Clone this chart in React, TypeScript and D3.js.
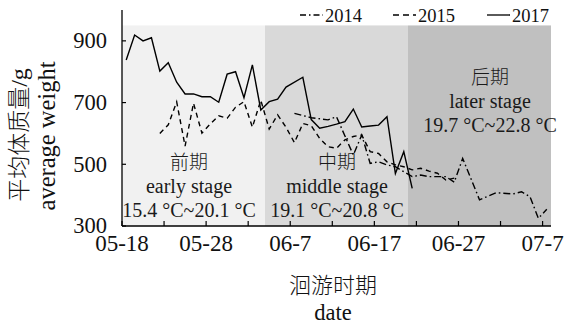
import React from "react";
import * as d3 from "d3";

// Average body weight (g) of migrating fish by date, three survey years
const dates2014 = ["06-07", "06-09", "06-11", "06-12", "06-14", "06-15", "06-16", "06-17", "06-18", "06-19", "06-21", "06-22", "06-23", "06-25", "06-26", "06-27", "06-29", "07-01", "07-03", "07-04", "07-05", "07-06", "07-07"];
const weights2014 = [665, 651, 644, 654, 530, 595, 503, 508, 498, 492, 460, 465, 460, 460, 442, 519, 385, 408, 404, 411, 395, 325, 354];

const dates2015 = ["05-22", "05-23", "05-24", "05-25", "05-26", "05-27", "05-28", "05-29", "05-30", "05-31", "06-01", "06-02", "06-03", "06-04", "06-05", "06-06", "06-07", "06-08", "06-09", "06-10", "06-11", "06-12", "06-13", "06-14", "06-15", "06-16", "06-17", "06-18", "06-19", "06-20", "06-21", "06-22", "06-23", "06-24", "06-25", "06-26"];
const weights2015 = [600, 628, 702, 559, 698, 601, 631, 657, 649, 685, 703, 620, 708, 614, 660, 620, 570, 632, 625, 584, 557, 552, 579, 590, 595, 541, 535, 508, 498, 492, 482, 487, 478, 471, 449, 455];

const dates2017 = ["05-18", "05-19", "05-20", "05-21", "05-22", "05-23", "05-24", "05-25", "05-26", "05-27", "05-28", "05-29", "05-30", "05-31", "06-01", "06-02", "06-03", "06-04", "06-05", "06-06", "06-08", "06-09", "06-10", "06-11", "06-12", "06-13", "06-14", "06-15", "06-16", "06-17", "06-18", "06-19", "06-20", "06-21"];
const weights2017 = [838, 919, 900, 910, 802, 829, 766, 728, 728, 719, 719, 701, 792, 800, 716, 822, 676, 703, 711, 750, 782, 645, 617, 623, 630, 638, 679, 621, 624, 627, 654, 470, 541, 422];

const seriesNames = ["2014", "2015", "2017"];

// Migration stages
const stageStarts = ["05-18", "06-04", "06-21"];
const stageEnd = "07-08";
const stageNamesZh = ["前期", "中期", "后期"];
const stageNamesEn = ["early stage", "middle stage", "later stage"];
const stageTemps = ["15.4 °C~20.1 °C", "19.1 °C~20.8 °C", "19.7 °C~22.8 °C"];

const xStart = "05-18";
const yTickValues = [300, 500, 700, 900];

const W = 565;
const H = 327;
const left = 122;
const right = 551;
const top = 10;
const bottom = 226;

const SERIF = "'Liberation Serif', 'Times New Roman', 'Noto Sans CJK SC', serif";
const CJK = "'Noto Sans CJK SC', 'Liberation Serif', serif";

const parse = (s: string) => new Date(2000, +s.slice(0, 2) - 1, +s.slice(3, 5));
const noon = (s: string) => d3.timeHour.offset(parse(s), 12);

const x = d3.scaleTime().domain([parse(xStart), parse(stageEnd)]).range([left, right]);
const y = d3.scaleLinear().domain([300, 1000]).range([bottom, top]);

const line = d3
  .line<[string, number]>()
  .x((d) => x(noon(d[0])))
  .y((d) => y(d[1]));

const zip = (ds: string[], vs: number[]) => ds.map((d, i) => [d, vs[i]] as [string, number]);

const series = [
  { name: seriesNames[0], data: zip(dates2014, weights2014), dash: "7,3,1.6,3" },
  { name: seriesNames[1], data: zip(dates2015, weights2015), dash: "5,4" },
  { name: seriesNames[2], data: zip(dates2017, weights2017), dash: "none" },
];

const bandFills = ["#f1f1f1", "#d9d9d9", "#c0c0c0"];
const stageLabelPos = [
  { cx: 189, y0: 169 },
  { cx: 337, y0: 169 },
  { cx: 490, y0: 84 },
];

const tickDates = d3.range(0, 51, 5).map((i) => d3.timeDay.offset(parse(xStart), i));
const fmt = d3.timeFormat("%m-%-d");

export default function App() {
  const bandEdges = [...stageStarts, stageEnd].map(parse);
  return (
    <svg
      width={W}
      height={H}
      style={{ position: "absolute", left: 0, top: 0, background: "#fff" }}
    >
      {/* stage bands */}
      {stageStarts.map((s, i) => (
        <rect
          key={s}
          x={x(bandEdges[i])}
          y={y(950)}
          width={x(bandEdges[i + 1]) - x(bandEdges[i])}
          height={y(300) - y(950)}
          fill={bandFills[i]}
        />
      ))}

      {/* stage annotations */}
      {stageLabelPos.map((p, i) => (
        <g key={i} fill="#1a1a1a" textAnchor="middle">
          <text x={p.cx} y={p.y0} fontSize={19} fontFamily={CJK} fontWeight={300}>
            {stageNamesZh[i]}
          </text>
          <text x={p.cx} y={p.y0 + 24} fontSize={20} fontFamily={SERIF}>
            {stageNamesEn[i]}
          </text>
          <text x={p.cx} y={p.y0 + 48} fontSize={20} fontFamily={SERIF}>
            {stageTemps[i]}
          </text>
        </g>
      ))}

      {/* series lines */}
      {series.map((s) => (
        <path
          key={s.name}
          d={line(s.data) || ""}
          fill="none"
          stroke="#000"
          strokeWidth={1.4}
          strokeDasharray={s.dash}
        />
      ))}

      {/* axes */}
      <line x1={left} x2={left} y1={y(1000)} y2={bottom} stroke="#000" strokeWidth={1.3} />
      <line x1={left} x2={right} y1={bottom} y2={bottom} stroke="#000" strokeWidth={1.3} />
      {yTickValues.map((v) => (
        <g key={v}>
          <line x1={left} x2={left + 4} y1={y(v)} y2={y(v)} stroke="#000" strokeWidth={1.2} />
          <text
            x={107}
            y={y(v)}
            dy="0.33em"
            textAnchor="end"
            fontFamily={SERIF}
            fontSize={22.5}
            fill="#111"
          >
            {v}
          </text>
        </g>
      ))}
      {tickDates.map((d, i) => (
        <g key={i}>
          <line x1={x(d)} x2={x(d)} y1={bottom} y2={bottom - 5} stroke="#000" strokeWidth={1.2} />
          {i % 2 === 0 && (
            <text
              x={x(d)}
              y={251}
              textAnchor="middle"
              fontFamily={SERIF}
              fontSize={23}
              fill="#111"
            >
              {fmt(d)}
            </text>
          )}
        </g>
      ))}

      {/* axis titles */}
      <text x={333} y={293} textAnchor="middle" fontFamily={CJK} fontWeight={300} fontSize={22} fill="#111">
        洄游时期
      </text>
      <text x={333} y={320} textAnchor="middle" fontFamily={SERIF} fontSize={22.5} fill="#111">
        date
      </text>
      <text
        transform="translate(27,135) rotate(-90)"
        textAnchor="middle"
        fontFamily={CJK}
        fontWeight={300}
        fontSize={23}
        fill="#111"
      >
        平均体质量<tspan fontFamily={SERIF} fontWeight={400} fontSize={24}>/g</tspan>
      </text>
      <text
        transform="translate(55,136) rotate(-90)"
        textAnchor="middle"
        fontFamily={SERIF}
        fontSize={24.5}
        fill="#111"
      >
        average weight
      </text>

      {/* legend */}
      {series.map((s, i) => {
        const lx = [300, 393, 487][i];
        return (
          <g key={s.name}>
            <line
              x1={lx}
              x2={lx + 23}
              y1={15}
              y2={15}
              stroke="#000"
              strokeWidth={1.3}
              strokeDasharray={i === 0 ? "6,3,1.5,3" : i === 1 ? "6,4" : "none"}
            />
            <text x={lx + 25} y={22} fontFamily={SERIF} fontSize={18.5} fill="#111">
              {s.name}
            </text>
          </g>
        );
      })}
    </svg>
  );
}
